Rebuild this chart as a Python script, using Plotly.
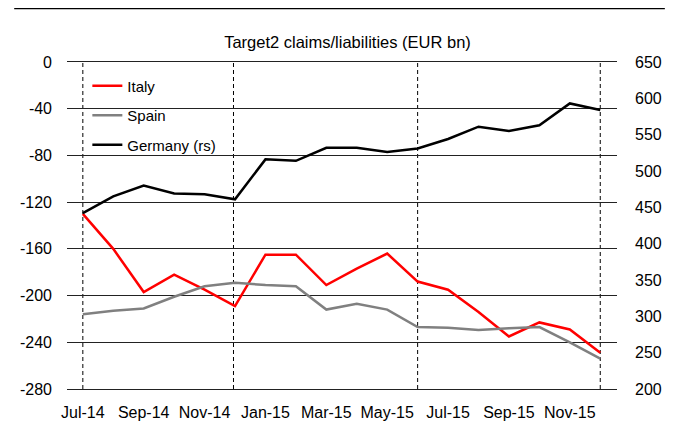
import plotly.graph_objects as go

months = ["Jul-14", "Aug-14", "Sep-14", "Oct-14", "Nov-14", "Dec-14",
          "Jan-15", "Feb-15", "Mar-15", "Apr-15", "May-15", "Jun-15",
          "Jul-15", "Aug-15", "Sep-15", "Oct-15", "Nov-15", "Dec-15"]
italy = [-130, -160, -197, -182, -195, -209, -165, -165, -191, -177, -164, -188,
         -195, -214, -235, -223, -229, -249]
spain = [-216, -213, -211, -201, -192, -189, -191, -192, -212, -207, -212, -227,
         -227.5, -229.5, -228, -227, -240, -254]
germany = [442, 465, 480, 469, 468, 461, 516, 514, 532, 532, 526, 531,
           544, 561, 555, 563, 593, 584]
tick_labels = months[::2]
left_ticks = [0, -40, -80, -120, -160, -200, -240, -280]
left_tick_labels = ["0", "-40", "-80", "-120", "-160", "-200", "-240", "-280"]
right_ticks = [200, 250, 300, 350, 400, 450, 500, 550, 600, 650]
dashed_at = [0, 4.95, 11, 17]

FONT = "Liberation Sans, Arial, sans-serif"
x_idx = list(range(len(months)))

fig = go.Figure()
fig.add_trace(go.Scatter(x=x_idx, y=italy, name="Italy", mode="lines",
                         line=dict(color="#ff0000", width=2.5), legendgroup="a"))
fig.add_trace(go.Scatter(x=x_idx, y=spain, name="Spain", mode="lines",
                         line=dict(color="#808080", width=2.5), legendgroup="b"))
fig.add_trace(go.Scatter(x=x_idx, y=germany, name="Germany (rs)", mode="lines",
                         line=dict(color="#000000", width=2.5), legendgroup="c",
                         yaxis="y2"))

shapes = []
for xv in dashed_at:
    shapes.append(dict(type="line", xref="x", yref="paper", x0=xv, x1=xv, y0=0, y1=1,
                       line=dict(color="black", width=1, dash="4px,3px"), layer="between"))
# top rule
shapes.append(dict(type="rect", xref="paper", yref="paper", x0=-0.096, x1=1.087,
                   y0=1.161, y1=1.172, fillcolor="black", line=dict(width=0)))

# the page body has an 8px margin, so the figure is sized to fit the window
W, H = 668, 426
fig.update_layout(
    width=W, height=H,
    margin=dict(l=55, r=59, t=54, b=45),
    paper_bgcolor="white", plot_bgcolor="white",
    font=dict(family=FONT, size=16, color="black"),
    title=dict(text="Target2 claims/liabilities (EUR bn)", x=0.51, xref="paper",
               y=1 - 34 / H, yref="container", yanchor="middle", xanchor="center",
               font=dict(family=FONT, size=16.5, color="black")),
    xaxis=dict(tickmode="array", tickvals=x_idx[::2], ticktext=tick_labels,
               range=[-0.52, 17.55], showgrid=False, zeroline=False,
               showline=True, mirror=True, linecolor="#222", linewidth=1,
               ticks="", ticklabelstandoff=9),
    yaxis=dict(range=[-280, 0], tickmode="array", tickvals=left_ticks,
               ticktext=left_tick_labels, showgrid=True, gridcolor="#222",
               gridwidth=1, zeroline=False, showline=False, ticks="",
               ticklabelstandoff=14),
    yaxis2=dict(range=[200, 650], tickmode="array", tickvals=right_ticks,
                overlaying="y", side="right",
                showgrid=False, zeroline=False, showline=False, ticks="",
                ticklabelstandoff=17),
    legend=dict(x=0.037, y=0.977, xanchor="left", yanchor="top",
                bgcolor="rgba(0,0,0,0)", tracegroupgap=7, traceorder="grouped",
                font=dict(family=FONT, size=15), itemwidth=30),
    showlegend=True,
    shapes=shapes,
)

fig.write_html("out.html")
